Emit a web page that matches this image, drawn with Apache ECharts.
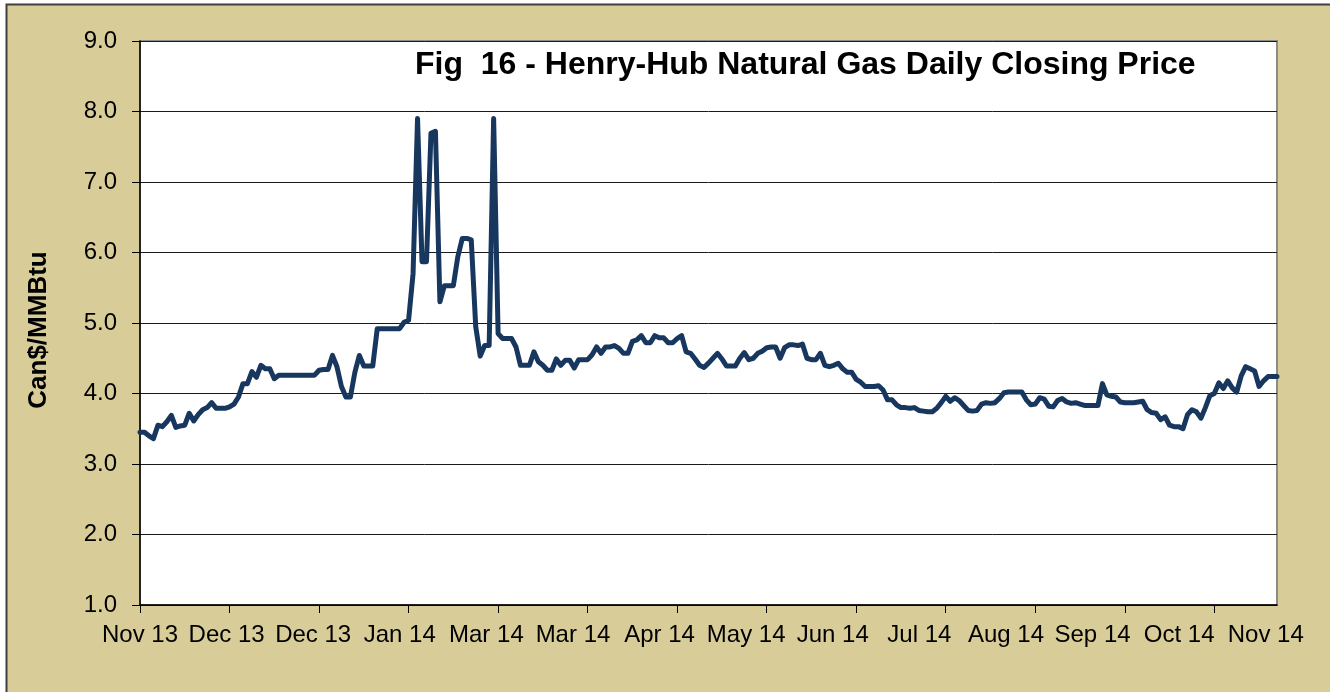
<!DOCTYPE html>
<html>
<head>
<meta charset="utf-8">
<script src="https://cdn.jsdelivr.net/npm/echarts@6/dist/echarts.min.js"></script>
<style>
  html, body { margin: 0; padding: 0; background: #ffffff; }
  #chart { width: 1330px; height: 692px; }
</style>
</head>
<body>
<div id="chart"></div>
<script>
// ---- Data ----
const chartTitle = 'Fig  16 - Henry-Hub Natural Gas Daily Closing Price';
const yAxisTitle = 'Can$/MMBtu';
const tickLabels = ['Nov 13', 'Dec 13', 'Dec 13', 'Jan 14', 'Mar 14', 'Mar 14', 'Apr 14',
                    'May 14', 'Jun 14', 'Jul 14', 'Aug 14', 'Sep 14', 'Oct 14', 'Nov 14'];
const labelEvery = 20; // trading days between tick marks
const prices = [
  3.45, 3.45, 3.40, 3.36, 3.55, 3.53, 3.60, 3.69, 3.52, 3.54,
  3.55, 3.72, 3.61, 3.70, 3.77, 3.80, 3.87, 3.79, 3.79, 3.79,
  3.81, 3.85, 3.95, 4.14, 4.14, 4.31, 4.23, 4.40, 4.35, 4.35,
  4.21, 4.26, 4.26, 4.26, 4.26, 4.26, 4.26, 4.26, 4.26, 4.26,
  4.33, 4.34, 4.34, 4.54, 4.38, 4.10, 3.95, 3.95, 4.30, 4.54,
  4.39, 4.39, 4.39, 4.92, 4.92, 4.92, 4.92, 4.92, 4.92, 5.01,
  5.04, 5.70, 7.90, 5.87, 5.87, 7.69, 7.72, 5.30, 5.53, 5.53,
  5.53, 5.94, 6.20, 6.20, 6.18, 4.95, 4.53, 4.68, 4.68, 7.90,
  4.85, 4.78, 4.78, 4.78, 4.66, 4.40, 4.40, 4.40, 4.59, 4.45,
  4.40, 4.33, 4.33, 4.49, 4.40, 4.47, 4.47, 4.36, 4.48, 4.48,
  4.48, 4.55, 4.66, 4.57, 4.66, 4.66, 4.68, 4.64, 4.57, 4.57,
  4.74, 4.76, 4.82, 4.72, 4.72, 4.82, 4.79, 4.79, 4.72, 4.72,
  4.78, 4.82, 4.59, 4.57, 4.49, 4.40, 4.37, 4.43, 4.50, 4.57,
  4.49, 4.39, 4.39, 4.39, 4.50, 4.58, 4.48, 4.50, 4.57, 4.60,
  4.65, 4.66, 4.66, 4.50, 4.65, 4.69, 4.69, 4.68, 4.70, 4.50,
  4.48, 4.48, 4.57, 4.40, 4.38, 4.40, 4.43, 4.35, 4.30, 4.30,
  4.20, 4.16, 4.10, 4.10, 4.10, 4.11, 4.05, 3.91, 3.91, 3.84,
  3.80, 3.80, 3.79, 3.80, 3.76, 3.75, 3.74, 3.74, 3.79, 3.87,
  3.96, 3.89, 3.94, 3.90, 3.83, 3.76, 3.75, 3.76, 3.85, 3.87,
  3.86, 3.87, 3.93, 4.01, 4.02, 4.02, 4.02, 4.02, 3.91, 3.84,
  3.85, 3.94, 3.92, 3.82, 3.81, 3.90, 3.93, 3.88, 3.86, 3.87,
  3.85, 3.83, 3.83, 3.83, 3.83, 4.14, 3.98, 3.96, 3.95, 3.88,
  3.87, 3.87, 3.87, 3.88, 3.89, 3.77, 3.73, 3.72, 3.63, 3.67,
  3.55, 3.53, 3.53, 3.50, 3.70, 3.77, 3.74, 3.65, 3.80, 3.97,
  4.00, 4.15, 4.07, 4.18, 4.08, 4.02, 4.25, 4.38, 4.35, 4.32,
  4.10, 4.18, 4.24, 4.24, 4.24
];
const yMin = 1, yMax = 9, yStep = 1;

// ---- Chart ----
const days = prices.map((_, i) => String(i));
const font = "'Liberation Sans', Arial, sans-serif";
const chart = echarts.init(document.getElementById('chart'), null, { renderer: 'canvas' });

const gridLeft = 140, gridRight = 53, gridTop = 41, gridBottom = 87;
// label positions in the reference are evenly spread, slightly tighter than the tick marks
const labelAxisMax = 13.13;

chart.setOption({
  backgroundColor: '#ffffff',
  animation: false,
  graphic: [{
    type: 'rect', z: -10, silent: true,
    shape: { x: 6.5, y: 4.5, width: 1400, height: 800 },
    style: { fill: '#D8CD98', stroke: '#3f3f3f', lineWidth: 2 }
  }],
  title: {
    text: chartTitle,
    left: 415, top: 49, padding: 0,
    textStyle: { fontFamily: font, fontSize: 32, fontWeight: 'bold', color: '#000000' }
  },
  grid: {
    left: gridLeft, right: gridRight, top: gridTop, bottom: gridBottom,
    show: true, backgroundColor: '#ffffff', borderColor: '#8c8c8c', borderWidth: 2
  },
  xAxis: [{
    type: 'category',
    data: days,
    boundaryGap: false,
    axisLine: { show: true, lineStyle: { color: '#000000', width: 1.5 } },
    axisTick: { show: true, length: 8, interval: (i) => i % labelEvery === 0, lineStyle: { color: '#000000', width: 1 } },
    axisLabel: { show: false },
    splitLine: { show: false }
  }, {
    type: 'value',
    position: 'bottom',
    min: 0, max: labelAxisMax, interval: 1,
    axisLine: { show: false }, axisTick: { show: false }, splitLine: { show: false },
    axisLabel: {
      show: true, margin: 18,
      fontFamily: font, fontSize: 24, color: '#000000',
      formatter: (v) => (Number.isInteger(v) && tickLabels[v] !== undefined) ? tickLabels[v] : ''
    }
  }],
  yAxis: {
    type: 'value',
    min: yMin, max: yMax, interval: yStep,
    name: yAxisTitle,
    nameLocation: 'middle',
    nameGap: 88,
    nameRotate: 90,
    nameTextStyle: { fontFamily: font, fontSize: 26, fontWeight: 'bold', color: '#000000', padding: [0, 14, 0, 0] },
    axisLine: { show: true, lineStyle: { color: '#000000', width: 1.5 } },
    axisTick: { show: true, length: 8, lineStyle: { color: '#000000', width: 1 } },
    axisLabel: {
      margin: 23, fontFamily: font, fontSize: 24, color: '#000000',
      formatter: (v) => v.toFixed(1)
    },
    splitLine: { show: true, lineStyle: { color: '#1a1a1a', width: 1 } }
  },
  series: [{
    type: 'line',
    data: prices,
    xAxisIndex: 0,
    showSymbol: false,
    symbol: 'none',
    smooth: false,
    lineStyle: { color: '#17375E', width: 5, join: 'round', cap: 'round' },
    z: 5
  }]
});
</script>
</body>
</html>
